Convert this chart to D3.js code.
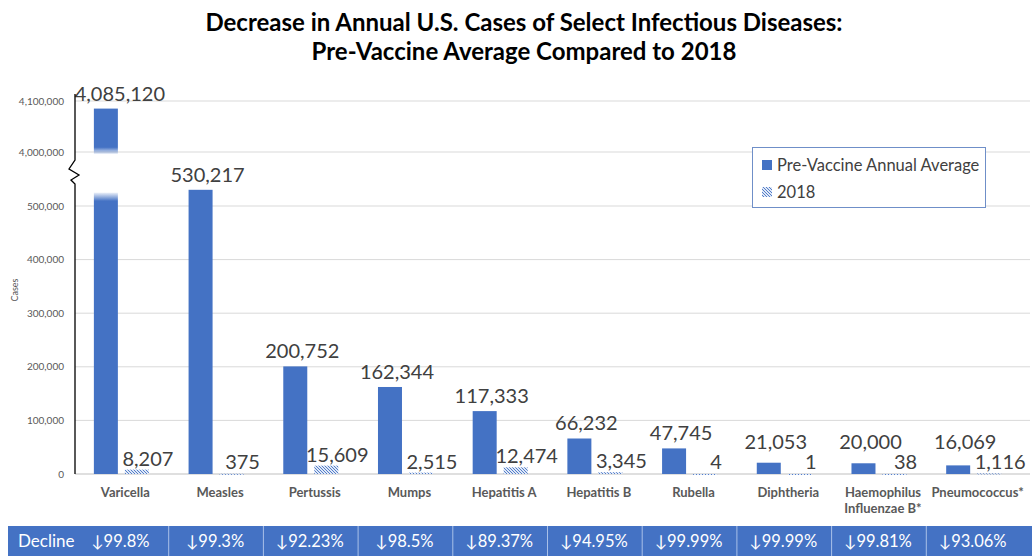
<!DOCTYPE html>
<html><head><meta charset="utf-8">
<script src="https://cdn.jsdelivr.net/npm/d3@7"></script>
<style>body{margin:0;background:#fff} svg{display:block} text{font-family:Lato,'Open Sans',sans-serif}</style>
</head><body><svg id="c" width="1032" height="556"></svg>
<script>
const categories = ["Varicella","Measles","Pertussis","Mumps","Hepatitis A","Hepatitis B","Rubella","Diphtheria","Haemophilus Influenzae B*","Pneumococcus*"];
const categoryLines = [["Varicella"],["Measles"],["Pertussis"],["Mumps"],["Hepatitis A"],["Hepatitis B"],["Rubella"],["Diphtheria"],["Haemophilus","Influenzae B*"],["Pneumococcus*"]];
const preVaccine = [4085120,530217,200752,162344,117333,66232,47745,21053,20000,16069];
const cases2018 = [8207,375,15609,2515,12474,3345,4,1,38,1116];
const declines = ["99.8%","99.3%","92.23%","98.5%","89.37%","94.95%","99.99%","99.99%","99.81%","93.06%"];
const lowerTicks = [0,100000,200000,300000,400000,500000];
const upperTicks = [4000000,4100000];
const seriesNames = ["Pre-Vaccine Annual Average","2018"];
const titleLines = ["Decrease in Annual U.S. Cases of Select Infectious Diseases:","Pre-Vaccine Average Compared to 2018"];

const BLUE = "#4472C4";
const svg = d3.select("#c");
const fmt = d3.format(",");

const x = d3.scaleBand().domain(categories).range([78,1025]);
const xs = d3.scaleBand().domain(seriesNames).range([0,x.bandwidth()]).paddingInner(0.226).paddingOuter(0.64).align(0.4);
const yLow = d3.scaleLinear().domain([0,500000]).range([474,206]);
const yHigh = d3.scaleLinear().domain([4000000,4100000]).range([152,101]);
const lowerMax = 1000000;          // values above this use the upper (broken) segment
const breakLow = 525000, breakHigh = 3996000;

const defs = svg.append("defs");
const pat = defs.append("pattern").attr("id","hatch").attr("patternUnits","userSpaceOnUse").attr("width",3).attr("height",3);
pat.append("rect").attr("width",3).attr("height",3).attr("fill","#dfe8f7");
pat.append("path").attr("d","M-1,-1 L4,4 M-1,2 L1,4 M2,-1 L4,1").attr("stroke",BLUE).attr("stroke-width",0.9);
const gUp = defs.append("linearGradient").attr("id","fadeDown").attr("x1",0).attr("y1",0).attr("x2",0).attr("y2",1);
gUp.append("stop").attr("offset","0.85").attr("stop-color",BLUE);
gUp.append("stop").attr("offset","1").attr("stop-color",BLUE).attr("stop-opacity",0.1);
const gLo = defs.append("linearGradient").attr("id","fadeUp").attr("x1",0).attr("y1",0).attr("x2",0).attr("y2",1);
gLo.append("stop").attr("offset","0").attr("stop-color",BLUE).attr("stop-opacity",0.1);
gLo.append("stop").attr("offset","0.03").attr("stop-color",BLUE);

// title
svg.append("g").selectAll("text").data(titleLines).join("text")
  .attr("x",524).attr("y",(d,i)=>31+i*29).attr("text-anchor","middle")
  .attr("font-weight","bold").attr("font-size",24).attr("fill","#000").text(d=>d);

// gridlines
const grid = svg.append("g");
grid.selectAll("line.lo").data(lowerTicks.slice(1)).join("line").attr("class","lo")
  .attr("x1",75).attr("x2",1030).attr("y1",d=>yLow(d)).attr("y2",d=>yLow(d)).attr("stroke","#d9d9d9");
grid.selectAll("line.hi").data(upperTicks).join("line").attr("class","hi")
  .attr("x1",75).attr("x2",1030).attr("y1",d=>yHigh(d)).attr("y2",d=>yHigh(d)).attr("stroke","#d9d9d9");
svg.append("line").attr("x1",75).attr("x2",1030).attr("y1",yLow(0)).attr("y2",yLow(0)).attr("stroke","#bfbfbf");

// tick labels
const tl = svg.append("g").attr("font-size",10).attr("fill","#595959").attr("text-anchor","end");
tl.selectAll("text.lo").data(lowerTicks).join("text").attr("class","lo").attr("x",64).attr("y",d=>yLow(d)).attr("dy","0.35em").text(fmt);
tl.selectAll("text.hi").data(upperTicks).join("text").attr("class","hi").attr("x",64).attr("y",d=>yHigh(d)).attr("dy","0.35em").text(fmt);
svg.append("text").attr("transform","translate(18,290) rotate(-90)").attr("text-anchor","middle").attr("font-size",9).attr("fill","#595959").text("Cases");

// bars
const bars = svg.append("g");
categories.forEach((c,i)=>{
  const v = preVaccine[i];
  const bx = x(c)+xs(seriesNames[0]);
  if (v > lowerMax) {
    bars.append("rect").attr("x",bx).attr("width",xs.bandwidth()).attr("y",yHigh(v)).attr("height",yHigh(breakHigh)-yHigh(v)).attr("fill","url(#fadeDown)");
    bars.append("rect").attr("x",bx).attr("width",xs.bandwidth()).attr("y",yLow(breakLow)).attr("height",yLow(0)-yLow(breakLow)).attr("fill","url(#fadeUp)");
  } else {
    bars.append("rect").attr("x",bx).attr("width",xs.bandwidth()).attr("y",yLow(v)).attr("height",yLow(0)-yLow(v)).attr("fill",BLUE);
  }
  const v2 = cases2018[i];
  const bx2 = x(c)+xs(seriesNames[1]);
  bars.append("rect").attr("x",bx2).attr("width",xs.bandwidth()).attr("y",yLow(v2)).attr("height",Math.max(1,yLow(0)-yLow(v2))).attr("fill","url(#hatch)");
});

// value labels
const vl = svg.append("g").attr("font-size",20).attr("fill","#404040").attr("text-anchor","middle");
categories.forEach((c,i)=>{
  const v = preVaccine[i];
  const top = v > lowerMax ? yHigh(v) : yLow(v);
  const dx = v > lowerMax ? 14 : 7;
  vl.append("text").attr("x",x(c)+xs(seriesNames[0])+xs.bandwidth()/2+dx).attr("y",Math.min(top-8,449)).text(fmt(v));
  const v2 = cases2018[i];
  vl.append("text").attr("x",x(c)+xs(seriesNames[1])+xs.bandwidth()/2+11).attr("y",Math.min(yLow(v2),yLow(0)-1)-4).text(fmt(v2));
});

// y axis line with break
svg.append("path").attr("d",`M75,94 V${yHigh(breakHigh)+6} L69,169 L79,175 L71,180 L75,184 V474`).attr("fill","none").attr("stroke","#000").attr("stroke-width",1.3);

// x labels
const xl = svg.append("g").attr("font-size",13).attr("font-weight","bold").attr("fill","#595959").attr("text-anchor","middle");
categories.forEach((c,i)=>{
  categoryLines[i].forEach((ln,j)=>{
    xl.append("text").attr("x",x(c)+x.bandwidth()/2).attr("y",497+j*16).text(ln);
  });
});

// legend
const lg = svg.append("g");
lg.append("rect").attr("x",752.5).attr("y",147.5).attr("width",233).attr("height",60).attr("fill","#fff").attr("stroke","#6f8fc8");
seriesNames.forEach((s,i)=>{
  lg.append("rect").attr("x",762).attr("y",160+i*27).attr("width",10).attr("height",10).attr("fill",i===0?BLUE:"url(#hatch)");
  lg.append("text").attr("x",777).attr("y",171+i*27).attr("font-size",16.5).attr("fill","#404040").text(s);
});

// decline table
const tb = svg.append("g");
tb.append("rect").attr("x",8).attr("y",526).attr("width",1024).attr("height",30).attr("fill",BLUE);
tb.selectAll("line").data(categories.slice(1)).join("line")
  .attr("x1",d=>x(d)-4).attr("x2",d=>x(d)-4).attr("y1",526).attr("y2",556).attr("stroke","#a9c0e8");
tb.append("text").attr("x",18).attr("y",547).attr("font-size",17).attr("fill","#fff").text("Decline");
tb.selectAll("text.d").data(categories).join("text").attr("class","d")
  .attr("x",(d,i)=>x(d)+x.bandwidth()/2-5).attr("y",547).attr("text-anchor","middle").attr("font-size",16.5).attr("fill","#fff")
  .text((d,i)=>"↓"+declines[i]);
</script></body></html>
